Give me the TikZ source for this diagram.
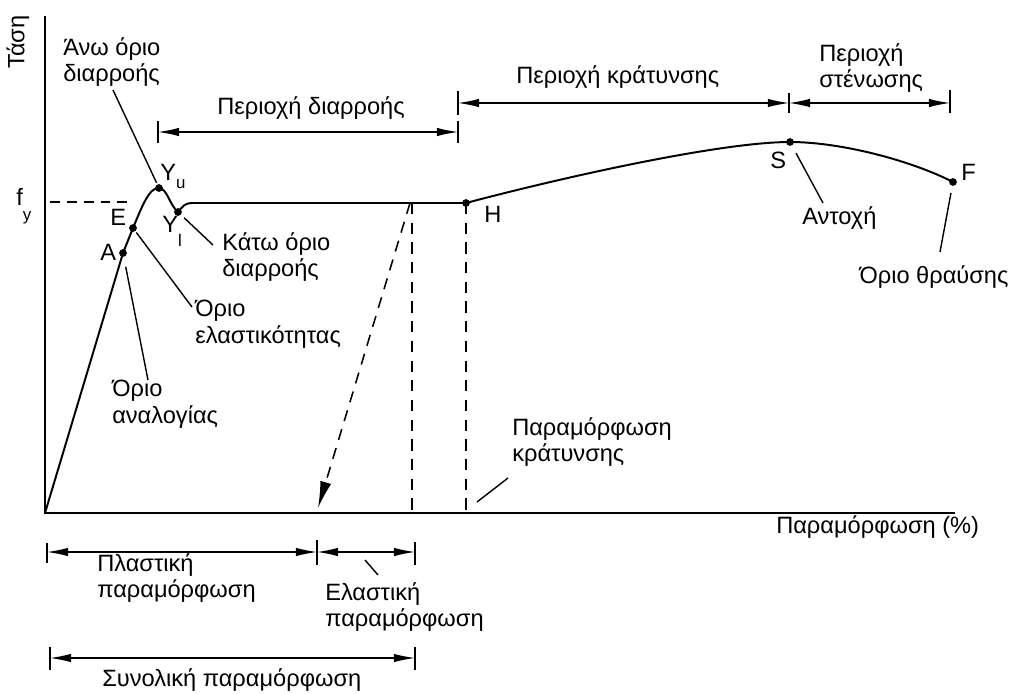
\documentclass[tikz,border=0pt]{standalone}
\usepackage{fontspec}
\setmainfont{Liberation Sans}
\usetikzlibrary{arrows.meta}

\begin{document}
\begin{tikzpicture}[x=0.025cm, y=-0.025cm,
    lbl/.style={inner sep=0pt, align=left, font=\fontsize{16.8}{19}\selectfont},
    curve/.style={line width=1.4pt},
    leader/.style={line width=1pt},
    dim/.style={line width=0.9pt, <->, >={Latex[length=15pt,width=6pt]}},
    tick/.style={line width=1.1pt},
    guide/.style={line width=1.1pt, dash pattern=on 8pt off 6pt},
    pt/.style={circle, fill, inner sep=0pt, minimum size=5.5pt}]
\useasboundingbox (0,0) rectangle (1015,693);

% Axes
\coordinate (O) at (45,513);
\coordinate (ytop) at (45,16);
\coordinate (xend) at (955,513);
\draw[line width=1.8pt] (ytop) -- (O) -- (xend);
\node[lbl] (tasi) at (18,42) {\rotatebox{90}{Τάση}};
\node[lbl, anchor=base west] (strain) at (776,533) {Παραμόρφωση (\%)};

% Points on the curve
\node[pt] (A) at (123,253) {};
\node[pt] (E) at (133,228) {};
\node[pt] (Yu) at (159,188) {};
\node[pt] (Yl) at (178,212) {};
\node[pt] (H) at (466,203) {};
\node[pt] (S) at (790,142) {};
\node[pt] (F) at (953,182) {};

% Stress-strain curve
\draw[curve] (O) -- (A.center) -- (E.center)
    .. controls (141,209) and (149,187) .. (Yu.center)
    .. controls (167,188) and (170,206) .. (Yl.center)
    .. controls (183,206) and (185,203) .. (192,203) -- (H.center)
    .. controls (560,178) and (720,142) .. (S.center)
    .. controls (840,142) and (910,160) .. (F.center);

% Point labels
\node[lbl, anchor=base west] (Alb) at (100,260) {A};
\node[lbl, anchor=base west] (Elb) at (110,225) {E};
\node[lbl, anchor=base west] (Yulb) at (160,180) {Y\raisebox{-6pt}{\fontsize{12}{12}\selectfont u}};
\node[lbl, anchor=base west] (Yllb) at (162,232) {Y\raisebox{-10pt}{\fontsize{12}{12}\selectfont l}};
\node[lbl, anchor=base west] (Hlb) at (484,222) {H};
\node[lbl, anchor=base west] (Slb) at (770,168) {S};
\node[lbl, anchor=base west] (Flb) at (961,180) {F};

% Yield stress
\node[lbl, anchor=base west] (fy) at (16,205) {f\raisebox{-11pt}{\fontsize{12}{12}\selectfont y}};
\coordinate (fy0) at (50,202);
\coordinate (fy1) at (130,202);
\draw[guide, line width=1pt, dash pattern=on 7pt off 5pt] (fy0) -- (fy1);

% Unloading and strain guides
\coordinate (U0) at (410,203);
\coordinate (U1) at (318,508);
\coordinate (Ue) at (412,203);
\coordinate (Ue0) at (412,513);
\coordinate (H0) at (466,513);
\draw[guide, -{Latex[length=19pt,width=8pt]}] (U0) -- (U1);
\draw[guide] (Ue) -- (Ue0);
\draw[guide] (H.center) -- (H0);

% Descriptions with leaders
\node[lbl, anchor=north west] (anw) at (63,37) {Άνω όριο\\διαρροής};
\coordinate (anwEnd) at (113,90);
\draw[leader, shorten >=4pt] (anwEnd) -- (Yu.center);

\node[lbl, anchor=north west] (katw) at (222,232) {Κάτω όριο\\διαρροής};
\coordinate (katwEnd) at (213,245);
\draw[leader, shorten <=6pt] (Yl.center) -- (katwEnd);

\node[lbl, anchor=north west] (elast) at (195,300) {Όριο\\ελαστικότητας};
\coordinate (elastEnd) at (192,307);
\draw[leader, shorten <=4pt] (E.center) -- (elastEnd);

\node[lbl, anchor=north west] (analog) at (112,380) {Όριο\\αναλογίας};
\coordinate (analogEnd) at (148,380);
\draw[leader, shorten <=10pt] (A.center) -- (analogEnd);

\node[lbl, anchor=base west] (antoxi) at (802,224) {Αντοχή};
\coordinate (antoxiEnd) at (823,203);
\draw[leader, shorten <=9pt] (S.center) -- (antoxiEnd);

\node[lbl, anchor=base] (thrafsi) at (934,283) {Όριο θραύσης};
\coordinate (thrafsiEnd) at (940,252);
\draw[leader, shorten <=8pt] (F.center) -- (thrafsiEnd);

\node[lbl, anchor=north west] (kratstr) at (512,417) {Παραμόρφωση\\κράτυνσης};
\coordinate (krat0) at (477,502);
\coordinate (krat1) at (508,478);
\draw[leader] (krat0) -- (krat1);

% Regions on top
\coordinate (dL) at (158,132);
\coordinate (dR) at (458,132);
\coordinate (kL) at (458,103);
\coordinate (kR) at (789,103);
\coordinate (sR) at (950,103);
\draw[dim] (dL) -- (dR);
\draw[dim] (kL) -- (kR);
\draw[dim] (kR) -- (sR);
\draw[tick] (158,121) -- (158,143);
\draw[tick] (458,121) -- (458,143);
\draw[tick] (458,91) -- (458,115);
\draw[tick] (789,93) -- (789,113);
\draw[tick] (950,90) -- (950,113);
\node[lbl, anchor=base west] (diarroi) at (217,114) {Περιοχή διαρροής};
\node[lbl, anchor=base west] (kratynsi) at (516,83) {Περιοχή κράτυνσης};
\node[lbl, anchor=north west] (stenosi) at (819,43) {Περιοχή\\στένωσης};

% Strain parts below
\coordinate (pL) at (47,552);
\coordinate (pM) at (317,552);
\coordinate (pR) at (415,552);
\coordinate (tL) at (50,658);
\coordinate (tR) at (415,658);
\draw[dim] (pL) -- (pM);
\draw[dim] (pM) -- (pR);
\draw[dim] (tL) -- (tR);
\draw[tick] (47,543) -- (47,563);
\draw[tick] (317,540) -- (317,565);
\draw[tick] (415,542) -- (415,565);
\draw[tick] (50,647) -- (50,670);
\draw[tick] (415,647) -- (415,670);
\node[lbl, anchor=north west] (plast) at (97,553) {Πλαστική\\παραμόρφωση};
\node[lbl, anchor=north west] (elastp) at (325,582) {Ελαστική\\παραμόρφωση};
\coordinate (el0) at (365,560);
\coordinate (el1) at (378,575);
\draw[leader] (el0) -- (el1);
\node[lbl, anchor=base west] (total) at (102,686) {Συνολική παραμόρφωση};
\end{tikzpicture}
\end{document}
